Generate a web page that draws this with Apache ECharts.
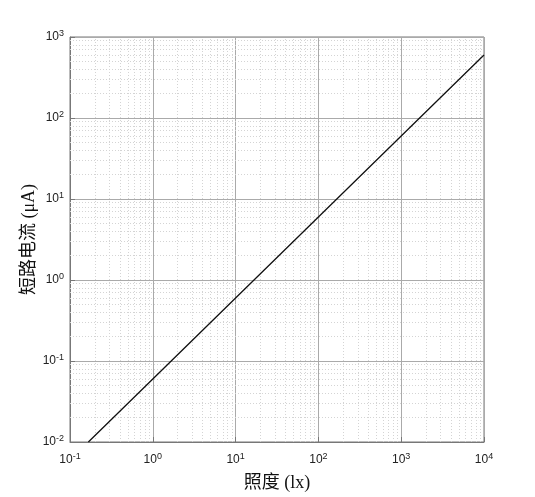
<!DOCTYPE html>
<html><head><meta charset="utf-8">
<script src="https://cdn.jsdelivr.net/npm/echarts@6/dist/echarts.min.js"></script>
<style>html,body{margin:0;padding:0;background:#fff}#c{width:535px;height:497px}</style>
</head><body><div id="c"></div>
<script>
// Data
var illuminance = [0.1667, 1, 10, 100, 1000, 10000];      // lx
var shortCurrent = [0.01, 0.06, 0.6, 6, 60, 600];          // μA
var xTicks = [0.1, 1, 10, 100, 1000, 10000];
var yTicks = [0.01, 0.1, 1, 10, 100, 1000];
var xTitle = '照度 (lx)';
var yTitle = '短路电流 (μA)';

function minorValues(ticks) {
  var out = [];
  for (var i = 0; i < ticks.length - 1; i++) {
    for (var k = 2; k <= 9; k++) out.push(+(ticks[i] * k).toPrecision(6));
  }
  return out;
}
function expLabel(v) {
  var e = Math.round(Math.log10(v));
  return '{b|10}{s|' + e + '}';
}
var rich = {
  b: {fontFamily: 'Liberation Sans', fontSize: 12, color: '#222'},
  s: {fontFamily: 'Liberation Sans', fontSize: 9, color: '#222', verticalAlign: 'top', padding: [0, 0, 7, 0]}
};
var minorLine = {color: '#d4d4d4', type: [1, 2], width: 1};
var markData = [];
minorValues(xTicks).forEach(function (v) { markData.push({xAxis: v}); });
minorValues(yTicks).forEach(function (v) { markData.push({yAxis: v}); });

var titleFont = {fontFamily: 'Liberation Serif, Noto Sans CJK SC', fontSize: 18, color: '#111'};

var chart = echarts.init(document.getElementById('c'));
chart.setOption({
  animation: false,
  grid: {left: 70, right: 51, top: 37, bottom: 55, show: true, borderColor: '#777', borderWidth: 1, backgroundColor: 'transparent'},
  xAxis: {
    type: 'log', logBase: 10, min: xTicks[0], max: xTicks[xTicks.length - 1],
    name: xTitle, nameLocation: 'middle', nameGap: 32, nameMoveOverlap: false,
    nameTextStyle: titleFont,
    axisLine: {lineStyle: {color: '#777'}},
    axisTick: {inside: true, length: 5, lineStyle: {color: '#777'}},
    axisLabel: {formatter: expLabel, rich: rich, margin: 10},
    splitLine: {show: true, lineStyle: {color: '#aaa', width: 1}}
  },
  yAxis: {
    type: 'log', logBase: 10, min: yTicks[0], max: yTicks[yTicks.length - 1],
    name: yTitle, nameLocation: 'middle', nameGap: 32, nameRotate: 90, nameMoveOverlap: false,
    nameTextStyle: titleFont,
    axisLine: {lineStyle: {color: '#777'}},
    axisTick: {inside: true, length: 5, lineStyle: {color: '#777'}},
    axisLabel: {formatter: expLabel, rich: rich, margin: 6},
    splitLine: {show: true, lineStyle: {color: '#aaa', width: 1}}
  },
  series: [{
    type: 'line',
    data: illuminance.map(function (x, i) { return [x, shortCurrent[i]]; }),
    showSymbol: false, symbol: 'none',
    lineStyle: {color: '#111', width: 1.3},
    z: 5,
    markLine: {
      silent: true, symbol: 'none', animation: false,
      label: {show: false},
      lineStyle: minorLine,
      data: markData,
      z: 1
    }
  }]
});
</script></body></html>
